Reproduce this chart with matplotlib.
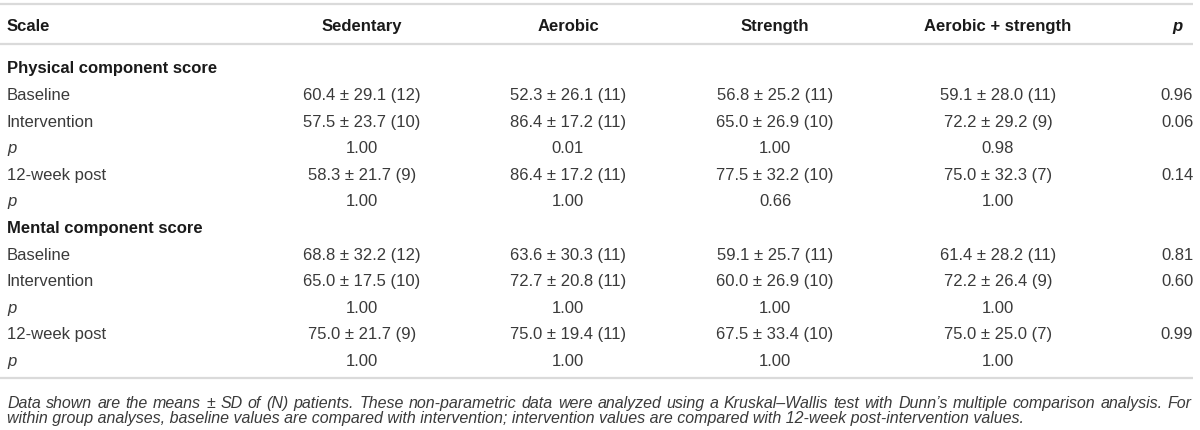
import numpy as np
import matplotlib
matplotlib.use('Agg')
import matplotlib.pyplot as plt

plt.rcParams['font.family'] = ['Liberation Sans', 'DejaVu Sans']

# table content
columns = ['Sedentary', 'Aerobic', 'Strength', 'Aerobic + strength']
sections = ['Physical component score', 'Mental component score']
rowLabels = ['Baseline', 'Intervention', 'p', '12-week post', 'p']

physical = [['60.4 \u00b1 29.1 (12)', '52.3 \u00b1 26.1 (11)', '56.8 \u00b1 25.2 (11)', '59.1 \u00b1 28.0 (11)'],
            ['57.5 \u00b1 23.7 (10)', '86.4 \u00b1 17.2 (11)', '65.0 \u00b1 26.9 (10)', '72.2 \u00b1 29.2 (9)'],
            ['1.00', '0.01', '1.00', '0.98'],
            ['58.3 \u00b1 21.7 (9)', '86.4 \u00b1 17.2 (11)', '77.5 \u00b1 32.2 (10)', '75.0 \u00b1 32.3 (7)'],
            ['1.00', '1.00', '0.66', '1.00']]
physicalP = ['0.96', '0.06', '', '0.14', '']

mental = [['68.8 \u00b1 32.2 (12)', '63.6 \u00b1 30.3 (11)', '59.1 \u00b1 25.7 (11)', '61.4 \u00b1 28.2 (11)'],
          ['65.0 \u00b1 17.5 (10)', '72.7 \u00b1 20.8 (11)', '60.0 \u00b1 26.9 (10)', '72.2 \u00b1 26.4 (9)'],
          ['1.00', '1.00', '1.00', '1.00'],
          ['75.0 \u00b1 21.7 (9)', '75.0 \u00b1 19.4 (11)', '67.5 \u00b1 33.4 (10)', '75.0 \u00b1 25.0 (7)'],
          ['1.00', '1.00', '1.00', '1.00']]
mentalP = ['0.81', '0.60', '', '0.99', '']

caption1 = ('Data shown are the means \u00b1 SD of (N) patients. These non-parametric data '
            'were analyzed using a Kruskal\u2013Wallis test with Dunn\u2019s multiple comparison '
            'analysis. For')
caption2 = ('within group analyses, baseline values are compared with intervention; '
            'intervention values are compared with 12-week post-intervention values.')

W, H = 1200, 431
fig = plt.figure(figsize=(W / 100.0, H / 100.0), dpi=100)
ax = fig.add_axes([0, 0, 1, 1])
ax.set_xlim(0, W)
ax.set_ylim(H, 0)
ax.axis('off')

headColor = '#1a1a1a'
bodyColor = '#3a3a3a'
lineColor = '#dadada'
fs = 12
base = 6  # centre of caps to baseline, pixels

colX = [362, 568, 775, 998]
pX = 1177
labelX = 7

# horizontal rules
for y in [5, 45, 379]:
    ax.plot([0, 1193], [y, y], color=lineColor, linewidth=1.6, solid_capstyle='butt')

# header
headY = 25
ax.text(labelX, headY + base, 'Scale', fontsize=fs, fontweight='bold', color=headColor,
        ha='left', va='baseline')
for x, c in zip(colX, columns):
    ax.text(x, headY + base, c, fontsize=fs, fontweight='bold', color=headColor,
            ha='center', va='baseline')
ax.text(pX, headY + base, 'p', fontsize=fs, fontweight='bold', style='italic',
        color=headColor, ha='center', va='baseline')

# body
y0 = 67.4
step = 26.6
row = 0
for sec, vals, pv in zip(sections, [physical, mental], [physicalP, mentalP]):
    y = y0 + step * row + base
    ax.text(labelX, y, sec, fontsize=fs, fontweight='bold', color=headColor,
            ha='left', va='baseline')
    row += 1
    for lab, rv, p in zip(rowLabels, vals, pv):
        y = y0 + step * row + base
        ax.text(labelX, y, lab, fontsize=fs, color=bodyColor, ha='left',
                va='baseline', style='italic' if lab == 'p' else 'normal')
        for x, v in zip(colX, rv):
            ax.text(x, y, v, fontsize=fs, color=bodyColor, ha='center', va='baseline')
        if p:
            ax.text(pX, y, p, fontsize=fs, color=bodyColor, ha='center', va='baseline')
        row += 1

# caption, first line justified
capFs = 11.5
capBase = 5.5
renderer = fig.canvas.get_renderer()
words = caption1.split(' ')
widths = []
for w in words:
    t = ax.text(0, 0, w, fontsize=capFs, style='italic')
    widths.append(t.get_window_extent(renderer).width)
    t.remove()
left, right = 7, 1192
gap = (right - left - sum(widths)) / (len(words) - 1)
x = left
for w, wd in zip(words, widths):
    ax.text(x, 403 + capBase, w, fontsize=capFs, style='italic', color=bodyColor,
            ha='left', va='baseline')
    x += wd + gap
ax.text(left, 418 + capBase, caption2, fontsize=capFs, style='italic', color=bodyColor,
        ha='left', va='baseline')

fig.savefig('out.png', dpi=100)
